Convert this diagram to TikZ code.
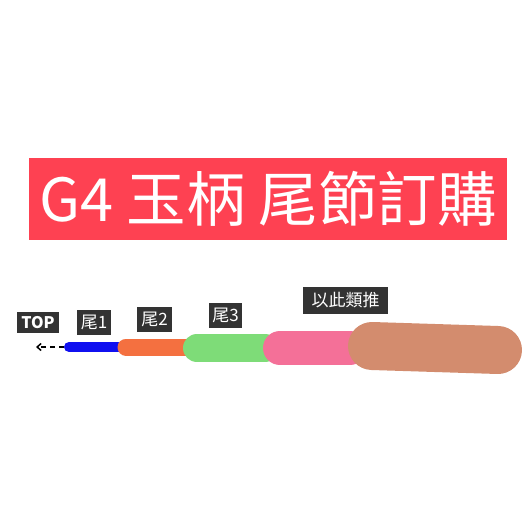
\documentclass[tikz,border=0pt]{standalone}
\usepackage{fontspec}
\setmainfont{Noto Sans CJK TC}
\usetikzlibrary{arrows.meta}
\definecolor{banner}{HTML}{FE4152}
\definecolor{tagbg}{HTML}{333333}
\definecolor{cblue}{HTML}{1010F0}
\definecolor{corange}{HTML}{F47040}
\definecolor{cgreen}{HTML}{7EDC78}
\definecolor{cpink}{HTML}{F47098}
\definecolor{cbrown}{HTML}{D38C6E}
\tikzset{
  tag/.style={fill=tagbg,text=white,inner sep=0pt,font=\fontsize{17}{17}\selectfont},
  seg/.style={line cap=round}
}
\begin{document}
\begin{tikzpicture}[x=1pt,y=-1pt]
\useasboundingbox (0,0) rectangle (528,528);
\fill[white] (0,0) rectangle (528,528);
% banner
\node[fill=banner,text=white,minimum width=478pt,minimum height=82pt,inner sep=0pt,
  font=\fontsize{59.5}{59.5}\selectfont] (title) at (268,198.5) {G4 玉柄 尾節訂購};
% strokes
\draw[seg,cblue,line width=10pt] (69,347) -- (118,347);
\draw[seg,corange,line width=17pt] (126,347) -- (190,347);
\draw[seg,cgreen,line width=28pt] (197,348) -- (265,348);
\draw[seg,cpink,line width=34pt] (280,348) -- (350,348);
\draw[seg,cbrown,line width=48pt] (372,346) -- (498,350);
% arrow
\coordinate (bstart) at (64,347);
\coordinate (tip) at (36,347);
\draw[dash pattern=on 5pt off 4pt,line width=1.5pt,-{Straight Barb[length=4pt,width=7pt,line width=1.5pt]}] (bstart) -- (tip);
% tags
\node[tag,minimum width=42pt,minimum height=21pt,font=\fontsize{16}{16}\selectfont\bfseries] (top) at (38,322.5) {TOP};
\node[tag,minimum width=34pt,minimum height=25pt] (w1) at (94,322.5) {尾1};
\node[tag,minimum width=35pt,minimum height=25pt] (w2) at (154.5,319.5) {尾2};
\node[tag,minimum width=33pt,minimum height=25pt] (w3) at (225.5,315.5) {尾3};
\node[tag,minimum width=85pt,minimum height=27pt] (etc) at (345.5,300.5) {以此類推};
\end{tikzpicture}
\end{document}
